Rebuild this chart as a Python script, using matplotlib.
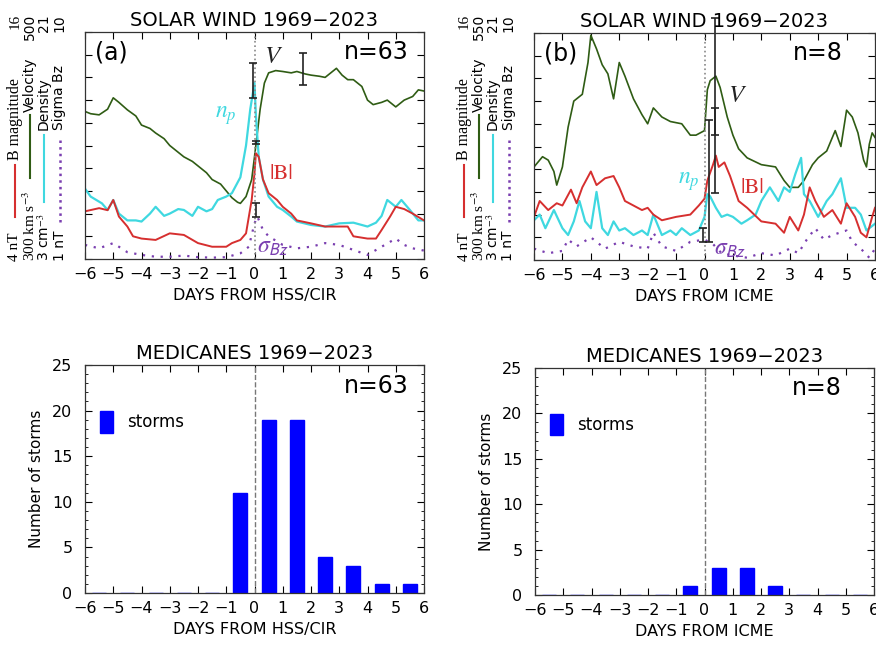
import numpy as np
import matplotlib
matplotlib.use("Agg")
import matplotlib.pyplot as plt
from matplotlib.lines import Line2D

plt.rcParams["mathtext.fontset"] = "stix"
plt.rcParams["font.family"] = "DejaVu Sans"

# ---- solar wind superposed epochs, values as fraction of the plot height ----
# panel (a): HSS/CIR, n=63
va_x = [-6, -5.8, -5.5, -5.2, -5, -4.8, -4.5, -4.2, -4, -3.7, -3.5, -3.2, -3, -2.7, -2.5, -2.2, -2,
        -1.7, -1.5, -1.2, -1, -0.8, -0.6, -0.5, -0.3, -0.1, 0, 0.1, 0.2, 0.35, 0.5, 0.75, 1, 1.3, 1.5,
        1.8, 2, 2.3, 2.5, 2.7, 2.9, 3.1, 3.3, 3.5, 3.8, 4, 4.2, 4.5, 4.7, 5, 5.3, 5.6, 5.8, 6]
va_v = [0.65, 0.64, 0.635, 0.66, 0.71, 0.69, 0.657, 0.63, 0.59, 0.575, 0.555, 0.53, 0.5, 0.47, 0.45,
        0.43, 0.41, 0.38, 0.35, 0.33, 0.30, 0.27, 0.25, 0.245, 0.275, 0.35, 0.45, 0.555, 0.66, 0.775,
        0.82, 0.83, 0.826, 0.82, 0.826, 0.815, 0.81, 0.805, 0.80, 0.82, 0.84, 0.81, 0.79, 0.79, 0.76,
        0.70, 0.68, 0.69, 0.70, 0.67, 0.70, 0.716, 0.745, 0.74]

na_x = [-6, -5.8, -5.6, -5.4, -5.2, -5, -4.8, -4.5, -4.2, -4, -3.7, -3.5, -3.2, -3, -2.7, -2.5, -2.2,
        -2, -1.7, -1.5, -1.3, -1, -0.8, -0.5, -0.3, -0.15, 0, 0.05, 0.15, 0.3, 0.5, 0.8, 1, 1.3, 1.5,
        2, 2.5, 3, 3.5, 4, 4.3, 4.5, 4.7, 5, 5.2, 5.5, 5.8, 6]
na_v = [0.31, 0.275, 0.26, 0.245, 0.216, 0.26, 0.20, 0.17, 0.17, 0.165, 0.20, 0.23, 0.19, 0.20, 0.22,
        0.216, 0.19, 0.23, 0.21, 0.22, 0.26, 0.275, 0.29, 0.36, 0.50, 0.66, 0.775, 0.63, 0.45, 0.35,
        0.275, 0.23, 0.216, 0.187, 0.165, 0.15, 0.143, 0.157, 0.16, 0.143, 0.16, 0.19, 0.26, 0.23,
        0.26, 0.216, 0.17, 0.17]

ba_x = [-6, -5.5, -5.2, -5, -4.8, -4.5, -4.3, -4, -3.5, -3, -2.5, -2, -1.5, -1, -0.8, -0.5, -0.3,
        -0.1, 0, 0.05, 0.15, 0.3, 0.5, 0.8, 1, 1.3, 1.5, 2, 2.5, 3, 3.3, 3.5, 4, 4.3, 4.5, 4.8, 5,
        5.3, 5.6, 6]
ba_v = [0.21, 0.224, 0.215, 0.26, 0.187, 0.143, 0.10, 0.09, 0.084, 0.113, 0.106, 0.07, 0.054, 0.054,
        0.07, 0.084, 0.113, 0.26, 0.378, 0.466, 0.45, 0.35, 0.29, 0.26, 0.23, 0.20, 0.17, 0.157, 0.143,
        0.143, 0.143, 0.10, 0.09, 0.09, 0.128, 0.187, 0.23, 0.22, 0.20, 0.17]

sa_x = [-6, -5.5, -5, -4.5, -4, -3.5, -3, -2.5, -2, -1.5, -1, -0.5, -0.2, 0, 0.1, 0.3, 0.5, 1, 1.5,
        2, 2.5, 3, 3.5, 4, 4.5, 5, 5.3, 5.6, 6]
sa_v = [0.062, 0.047, 0.07, 0.03, 0.018, 0.01, 0.01, 0.015, 0.008, 0.006, 0.008, 0.025, 0.054, 0.157,
        0.187, 0.128, 0.10, 0.062, 0.047, 0.054, 0.07, 0.062, 0.04, 0.018, 0.054, 0.09, 0.062, 0.047,
        0.037]

# panel (b): ICME, n=8
vb_x = [-6, -5.7, -5.5, -5.3, -5.2, -5, -4.8, -4.6, -4.3, -4.1, -4, -3.8, -3.6, -3.4, -3.2, -3, -2.8,
        -2.5, -2.2, -2, -1.8, -1.5, -1.2, -0.8, -0.5, -0.3, 0, 0.1, 0.2, 0.4, 0.55, 0.8, 1, 1.2, 1.5,
        2, 2.5, 2.8, 3, 3.3, 3.5, 3.8, 4, 4.3, 4.6, 4.8, 5, 5.2, 5.4, 5.6, 5.7, 5.8, 5.9, 6]
vb_v = [0.41, 0.455, 0.44, 0.39, 0.33, 0.41, 0.585, 0.70, 0.73, 0.87, 0.99, 0.93, 0.86, 0.82, 0.71,
        0.87, 0.81, 0.71, 0.64, 0.60, 0.67, 0.63, 0.61, 0.60, 0.55, 0.55, 0.57, 0.75, 0.79, 0.81, 0.76,
        0.63, 0.55, 0.49, 0.45, 0.42, 0.41, 0.35, 0.32, 0.32, 0.35, 0.42, 0.45, 0.48, 0.57, 0.50, 0.66,
        0.63, 0.56, 0.44, 0.41, 0.51, 0.56, 0.54]

nb_x = [-6, -5.8, -5.6, -5.3, -5, -4.8, -4.6, -4.4, -4.2, -4, -3.8, -3.6, -3.4, -3.2, -3, -2.8, -2.5,
        -2.2, -2, -1.8, -1.5, -1.2, -1, -0.8, -0.5, -0.2, 0, 0.1, 0.2, 0.4, 0.6, 0.8, 1, 1.3, 1.5, 1.8,
        2, 2.3, 2.6, 2.8, 3, 3.2, 3.4, 3.5, 3.7, 4, 4.3, 4.5, 4.8, 5, 5.3, 5.5, 5.7, 6]
nb_v = [0.175, 0.20, 0.14, 0.22, 0.14, 0.11, 0.17, 0.26, 0.17, 0.14, 0.30, 0.14, 0.11, 0.17, 0.13,
        0.14, 0.11, 0.13, 0.11, 0.20, 0.11, 0.13, 0.11, 0.14, 0.11, 0.13, 0.19, 0.29, 0.28, 0.23, 0.19,
        0.20, 0.19, 0.16, 0.175, 0.20, 0.26, 0.32, 0.26, 0.32, 0.30, 0.38, 0.45, 0.29, 0.26, 0.19,
        0.26, 0.29, 0.36, 0.23, 0.23, 0.20, 0.13, 0.16]

bb_x = [-6, -5.8, -5.5, -5.2, -5, -4.7, -4.5, -4.3, -4, -3.8, -3.5, -3.2, -3, -2.8, -2.5, -2.2, -2,
        -1.8, -1.5, -1, -0.5, -0.2, 0, 0.1, 0.3, 0.4, 0.5, 0.7, 0.9, 1.2, 1.5, 2, 2.5, 2.8, 3, 3.3,
        3.5, 3.7, 3.9, 4.2, 4.5, 4.8, 5, 5.3, 5.5, 5.7, 5.9, 6]
bb_v = [0.19, 0.26, 0.22, 0.25, 0.24, 0.31, 0.25, 0.32, 0.39, 0.33, 0.36, 0.37, 0.32, 0.26, 0.24,
        0.22, 0.23, 0.20, 0.175, 0.19, 0.20, 0.24, 0.27, 0.35, 0.42, 0.46, 0.41, 0.43, 0.37, 0.26,
        0.23, 0.17, 0.16, 0.12, 0.19, 0.13, 0.20, 0.32, 0.26, 0.19, 0.22, 0.16, 0.25, 0.19, 0.12,
        0.10, 0.19, 0.23]

sb_x = [-6, -5.5, -5, -4.8, -4.5, -4, -3.5, -3, -2.5, -2, -1.8, -1.5, -1, -0.5, 0, 0.3, 0.6, 1, 1.5,
        2, 2.5, 3, 3.3, 3.6, 3.9, 4.2, 4.5, 5, 5.2, 5.5, 5.8, 6]
sb_v = [0.05, 0.03, 0.04, 0.09, 0.06, 0.10, 0.05, 0.08, 0.06, 0.05, 0.12, 0.06, 0.04, 0.08, 0.09,
        0.07, 0.03, 0.02, 0.01, 0.03, 0.02, 0.05, 0.03, 0.09, 0.14, 0.09, 0.11, 0.13, 0.08, 0.05, 0.01,
        0.05]

# error bars: x, low, high (fraction of plot height)
err_a = [(-0.05, 0.709, 0.863), (0.05, 0.505, 0.522), (0.05, 0.185, 0.247), (1.72, 0.767, 0.907)]
err_b = [(0.37, 0.295, 1.066), (0.37, 0.55, 0.67), (0.17, 0.08, 0.617), (-0.04, 0.08, 0.14)]

top_vals_a = ["16", "500", "21", "10"]
top_vals_b = ["16", "550", "21", "10"]
bot_vals = ["4 nT", "300 km s$^{-3}$", "3 cm$^{-3}$", "1 nT"]
names = ["B magnitude", "Velocity", "Density", "Sigma Bz"]

# ---- medicane counts per half-day bin ----
bin_centers = [-5.5, -4.5, -3.5, -2.5, -1.5, -0.5, 0.5, 1.5, 2.5, 3.5, 4.5, 5.5]
storms_hss = [0, 0, 0, 0, 0, 11, 19, 19, 4, 3, 1, 1]
storms_icme = [0, 0, 0, 0, 0, 1, 3, 3, 1, 0, 0, 0]

C_B = "#d62f2f"
C_V = "#2f5c14"
C_N = "#3fd8e0"
C_S = "#7a3fb0"

W, H = 876, 648
fig = plt.figure(figsize=(W / 100, H / 100), dpi=100)


def px_axes(l, t, r, b):
    return fig.add_axes([l / W, 1 - b / H, (r - l) / W, (b - t) / H])


def style_ticks(ax):
    ax.tick_params(direction="in", top=True, right=True, length=5, width=0.8, labelsize=11.5)
    ax.tick_params(axis="x", pad=6)
    ax.tick_params(axis="y", pad=9)
    ax.tick_params(which="minor", direction="in", top=True, right=True, length=2.5, width=0.6)
    for s in ax.spines.values():
        s.set_linewidth(0.9)
        s.set_color("#333333")


def solar_panel(ax, series, errs, tag, n, xlabel, lbl_pos):
    ax.plot(series[0][0], series[0][1], color=C_V, lw=1.2)
    ax.plot(series[1][0], series[1][1], color=C_N, lw=1.6)
    ax.plot(series[2][0], series[2][1], color=C_B, lw=1.4)
    ax.plot(series[3][0], series[3][1], color=C_S, lw=1.6, ls=(0, (1, 3)))
    ax.axvline(0, color="#888888", ls=":", lw=1.2)
    for x, lo, hi in errs:
        ax.errorbar([x], [(lo + hi) / 2], yerr=[[(hi - lo) / 2], [(hi - lo) / 2]], fmt="none",
                    ecolor="#222222", elinewidth=1.2, capsize=3, capthick=1.2, clip_on=False)
    ax.set_xlim(-6, 6)
    ax.set_ylim(0, 1)
    ax.set_xticks(range(-6, 7))
    ax.set_yticks(np.linspace(0, 1, 11))
    ax.set_yticklabels([])
    style_ticks(ax)
    ax.set_title("SOLAR WIND 1969\u22122023", fontsize=14, pad=4)
    ax.set_xlabel(xlabel, fontsize=11.5)
    ax.text(0.03, 0.91, tag, transform=ax.transAxes, fontsize=17, va="center", ha="left")
    ax.text(0.955 if tag == "(a)" else 0.905, 0.91, n, transform=ax.transAxes, fontsize=17,
            va="center", ha="right")
    (vx, vy), (nx, ny), (bx, by), (sx, sy) = lbl_pos
    ax.text(vx, vy, "$V$", fontsize=18, color="#222222", ha="center", va="center")
    ax.text(nx, ny, "$n_p$", fontsize=17, color=C_N, ha="center", va="center")
    ax.text(bx, by, "|B|", fontsize=16, color=C_B, ha="center", va="center", family="STIXGeneral")
    ax.text(sx, sy, r"$\sigma_{\mathsf{Bz}}$", fontsize=17, color=C_S, ha="left", va="center")


def side_labels(x_off, tops):
    cols = [15, 29.5, 44, 59.5]
    colors = [C_B, C_V, C_N, C_S]
    fams = ["Liberation Serif", "Liberation Serif", "DejaVu Sans", "DejaVu Sans"]
    seg = [(217, 165), (178, 115), (202, 135), (222, 140)]
    name_bot = [160, 112, 130, 130]
    for i in range(4):
        x = (cols[i] + x_off) / W
        fig.text(x, 1 - 261 / H, bot_vals[i], rotation=90, ha="center", va="bottom",
                 fontsize=11 if i < 2 else 10, family=fams[i])
        ls = ":" if i == 3 else "-"
        lw = 1.8 if i == 3 else 1.5
        fig.add_artist(Line2D([x, x], [1 - seg[i][0] / H, 1 - seg[i][1] / H], color=colors[i],
                              lw=lw, ls=ls, transform=fig.transFigure))
        fig.text(x, 1 - name_bot[i] / H, names[i], rotation=90, ha="center", va="bottom",
                 fontsize=11.5 if i == 0 else 10,
                 family="Liberation Serif" if i == 0 else "DejaVu Sans")
        fig.text(x, 1 - 14 / H, tops[i], rotation=90, ha="center", va="top",
                 fontsize=11 if i == 0 else 10,
                 family="Liberation Serif" if i == 0 else "DejaVu Sans")


def storm_panel(ax, counts, n, xlabel):
    ax.bar(bin_centers, counts, width=0.5, color="#0000ff", edgecolor="#0000ff", lw=1,
           label="storms")
    ax.axvline(0, color="#777777", ls="--", lw=1)
    ax.set_xlim(-6, 6)
    ax.set_ylim(0, 25)
    ax.set_xticks(range(-6, 7))
    ax.set_yticks(range(0, 26, 5))
    ax.set_yticks(range(0, 26), minor=True)
    style_ticks(ax)
    ax.set_title("MEDICANES 1969\u22122023", fontsize=14, pad=4)
    ax.set_xlabel(xlabel, fontsize=11.5)
    ax.set_ylabel("Number of storms", fontsize=11, labelpad=6)
    ax.text(0.905 if n == "n=8" else 0.955, 0.91, n, transform=ax.transAxes, fontsize=17,
            va="center", ha="right")
    ax.legend(loc="center left", bbox_to_anchor=(0.0, 0.75), frameon=False, fontsize=12,
              handlelength=0.8, handleheight=1.6, handletextpad=0.8)


ax_a = px_axes(85, 32, 424, 259)
solar_panel(ax_a, [(va_x, va_v), (na_x, na_v), (ba_x, ba_v), (sa_x, sa_v)], err_a, "(a)", "n=63",
            "DAYS FROM HSS/CIR",
            [(0.69, 0.894), (-1.0, 0.634), (0.94, 0.374), (0.08, 0.057)])
side_labels(0, top_vals_a)

ax_b = px_axes(534, 33, 875, 260)
solar_panel(ax_b, [(vb_x, vb_v), (nb_x, nb_v), (bb_x, bb_v), (sb_x, sb_v)], err_b, "(b)", "n=8",
            "DAYS FROM ICME",
            [(1.18, 0.727), (-0.55, 0.35), (1.67, 0.317), (0.33, 0.053)])
side_labels(449, top_vals_b)

ax_c = px_axes(85, 365, 424, 593)
storm_panel(ax_c, storms_hss, "n=63", "DAYS FROM HSS/CIR")

ax_d = px_axes(535, 368, 874, 595)
storm_panel(ax_d, storms_icme, "n=8", "DAYS FROM ICME")

fig.savefig("out.png", dpi=100)
